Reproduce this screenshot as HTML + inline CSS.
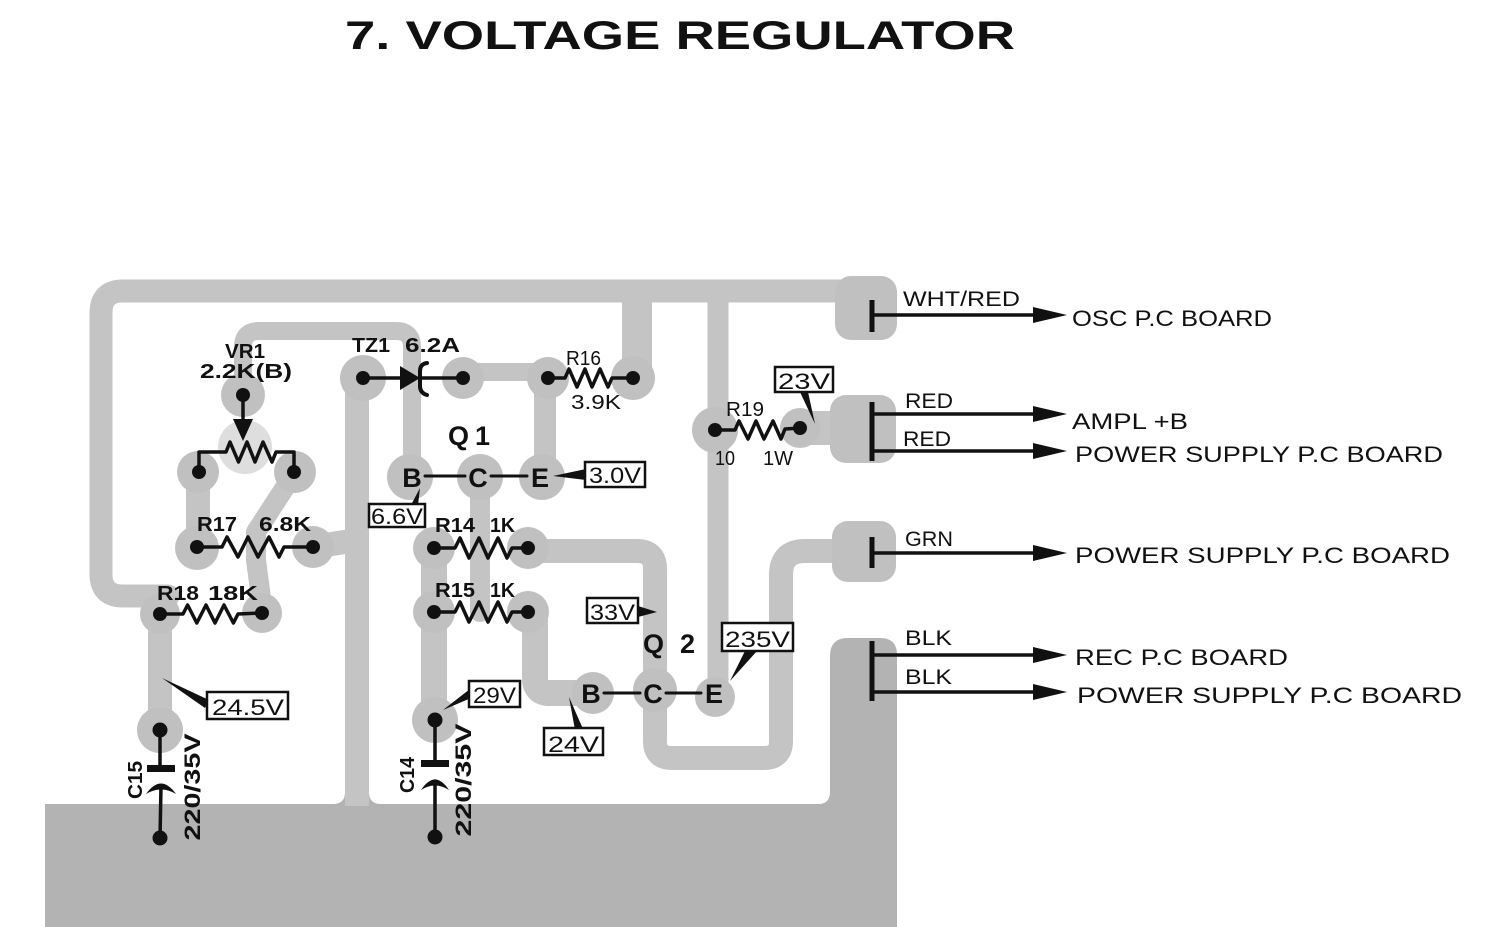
<!DOCTYPE html>
<html>
<head>
<meta charset="utf-8">
<style>
html,body{margin:0;padding:0;background:#fff;}
svg{display:block;}
</style>
</head>
<body>
<svg width="1497" height="927" viewBox="0 0 1497 927" xmlns="http://www.w3.org/2000/svg" font-family="'Liberation Sans', Arial, sans-serif">
<rect width="1497" height="927" fill="#fff"/>

<!-- ground plane -->
<path fill="#b3b3b3" d="M45,927 V804 H333 Q345,804 345,792 V790 H369 V792 Q369,804 381,804 H818 Q830,804 830,792 V656 Q830,638 848,638 H880 Q897,638 897,655 V927 Z"/>

<!-- traces -->
<g fill="none" stroke="#c4c4c4" stroke-linecap="round" stroke-linejoin="round">
  <path d="M168,596 H123 Q101,596 101,574 V313 Q101,291 123,291 H850" stroke-width="23"/>
  <path d="M160,600 V730" stroke-width="24"/>
  <path d="M198,472 V548" stroke-width="24"/>
  <path d="M295,472 L256,532 V560 L263,613" stroke-width="20"/>
  <path d="M313,547 L357,540" stroke-width="24"/>
  <path d="M357,378 V806" stroke-width="24" stroke-linecap="butt"/>
  <path d="M243,395 V347 Q243,331 259,331 H396 Q412,331 412,347 V477" stroke-width="18"/>
  <path d="M463,372 H548" stroke-width="18"/>
  <path d="M545,378 V477" stroke-width="22"/>
  <path d="M637,378 V285" stroke-width="30" stroke-linecap="butt"/>
  <path d="M480,477 V612" stroke-width="20"/>
  <path d="M434,548 V720" stroke-width="26"/>
  <path d="M528,551 H637 Q655,551 655,569 V741 Q655,758 672,758 H764 Q781,758 781,741 V575 Q781,551 805,551 H850" stroke-width="24"/>
  <path d="M528,612 H535 V678 Q535,693 550,693 H593" stroke-width="26"/>
  <path d="M718,283 V690" stroke-width="21" stroke-linecap="butt"/>
  <path d="M800,428 H845" stroke-width="34"/>
</g>

<!-- right pads -->
<g fill="#c0c0c0">
  <rect x="835" y="276" width="62" height="64" rx="16"/>
  <rect x="830" y="395" width="66" height="68" rx="16"/>
  <rect x="832" y="521" width="64" height="61" rx="16"/>
</g>

<!-- pad blobs -->
<circle cx="245" cy="447" r="27" fill="#dedede"/>
<g fill="#c0c0c0">
  <circle cx="243" cy="395" r="22"/>
  <circle cx="198" cy="472" r="21"/>
  <circle cx="295" cy="472" r="21"/>
  <circle cx="197" cy="548" r="22"/>
  <circle cx="313" cy="547" r="21"/>
  <circle cx="160" cy="614" r="20"/>
  <circle cx="262" cy="613" r="20"/>
  <circle cx="160" cy="730" r="23"/>
  <circle cx="363" cy="378" r="23"/>
  <circle cx="463" cy="378" r="21"/>
  <circle cx="548" cy="378" r="21"/>
  <circle cx="633" cy="378" r="22"/>
  <circle cx="410" cy="477" r="23"/>
  <circle cx="480" cy="477" r="23"/>
  <circle cx="542" cy="477" r="23"/>
  <circle cx="434" cy="548" r="21"/>
  <circle cx="528" cy="548" r="21"/>
  <circle cx="434" cy="612" r="21"/>
  <circle cx="528" cy="612" r="21"/>
  <circle cx="435" cy="720" r="23"/>
  <circle cx="593" cy="693" r="21"/>
  <circle cx="655" cy="690" r="22"/>
  <circle cx="715" cy="697" r="20"/>
  <circle cx="715" cy="430" r="23"/>
  <circle cx="800" cy="428" r="20"/>
</g>

<!-- title -->
<text x="345" y="49" font-size="40" font-weight="bold" fill="#111" textLength="670" lengthAdjust="spacingAndGlyphs">7. VOLTAGE REGULATOR</text>

<!-- components -->
<g stroke="#111" fill="none" stroke-width="3.5" stroke-linejoin="round" stroke-linecap="round">
  <line x1="243" y1="395" x2="243" y2="422"/>
  <polyline points="199,472 199,452 226,452 230,442 238.5,462 247,442 255,462 263,442 272,462 276,452 294,452 294,472"/>
  <polyline points="197,547 222,547 227,537 238,557 248,537 258,557 269,537 279,557 284,547 313,547"/>
  <polyline points="160,614 183,614 187.6,605 196.8,623 206,605 215,623 224,605 233.4,623 238,614 262,613"/>
  <line x1="363" y1="378" x2="402" y2="378"/>
  <line x1="420" y1="378" x2="463" y2="378"/>
  <path d="M427,363 Q420,364 420,371 L420,386 Q420,393 427,395" stroke-width="4"/>
  <polyline points="548,378 565,378 569,369 577,387 585,369 592,387 600,369 608,387 612,378 633,378"/>
  <polyline points="434,548 455,548 460,538 469,558 479,538 488,558 498,538 507,558 512,548 528,548"/>
  <polyline points="434,612 455,612 460,602 469,622 479,602 488,622 498,602 507,622 512,612 528,612"/>
  <polyline points="715,430 735,430 739,421 748,439 756,421 764,439 773,421 781,439 785,429 800,428"/>
  <line x1="425" y1="476" x2="465" y2="476" stroke-width="3"/>
  <line x1="491" y1="476" x2="527" y2="476" stroke-width="3"/>
  <line x1="604" y1="693" x2="640" y2="693" stroke-width="3"/>
  <line x1="666" y1="693" x2="701" y2="693" stroke-width="3"/>
  <line x1="160" y1="730" x2="160" y2="768"/>
  <line x1="161" y1="786" x2="160" y2="838"/>
  <line x1="435" y1="720" x2="435" y2="763"/>
  <line x1="435" y1="781" x2="435" y2="837"/>
</g>

<g fill="#111">
  <circle cx="243" cy="395" r="7"/>
  <circle cx="199" cy="472" r="7"/>
  <circle cx="294" cy="472" r="7"/>
  <circle cx="197" cy="547" r="7"/>
  <circle cx="313" cy="547" r="7"/>
  <circle cx="160" cy="614" r="7"/>
  <circle cx="262" cy="613" r="7"/>
  <circle cx="363" cy="378" r="7"/>
  <circle cx="463" cy="378" r="7"/>
  <circle cx="548" cy="378" r="7"/>
  <circle cx="633" cy="378" r="7"/>
  <circle cx="434" cy="548" r="7"/>
  <circle cx="528" cy="548" r="7"/>
  <circle cx="434" cy="612" r="7"/>
  <circle cx="528" cy="612" r="7"/>
  <circle cx="715" cy="430" r="7"/>
  <circle cx="800" cy="428" r="7"/>
  <circle cx="160" cy="730" r="7.5"/>
  <circle cx="160" cy="838" r="7.5"/>
  <circle cx="435" cy="720" r="7.5"/>
  <circle cx="435" cy="837" r="7.5"/>
  <polygon points="233,419 253,419 243,441"/>
  <polygon points="400,366 400,390 420,378"/>
  <rect x="147" y="765" width="28" height="7"/>
  <path d="M146,794 Q161,773 176,794 Q161,785 146,794 Z"/>
  <rect x="421" y="760" width="28" height="7"/>
  <path d="M421,790 Q435,769 449,790 Q435,781 421,790 Z"/>
  <polygon points="162,678 209,700 205,708"/>
  <polygon points="443,710 470,689 471,698"/>
  <polygon points="569,697 575,730 583,729"/>
  <polygon points="745,651 757,651 730,681"/>
  <polygon points="800,392 808,392 815,424"/>
  <polygon points="553,476 586,469 586,480"/>
  <polygon points="420,488 411,505 418,505"/>
  <polygon points="638,606 657,612 638,617"/>
</g>

<!-- value boxes -->
<g fill="#fff" stroke="#111" stroke-width="2.5">
  <rect x="207" y="692" width="81" height="27"/>
  <rect x="469" y="681" width="51" height="26"/>
  <rect x="585" y="462" width="60" height="25"/>
  <rect x="369" y="504" width="56" height="23"/>
  <rect x="587" y="598" width="51" height="25"/>
  <rect x="722" y="623" width="71" height="28"/>
  <rect x="544" y="728" width="59" height="27"/>
  <rect x="775" y="367" width="58" height="25"/>
</g>
<g fill="#111" font-size="22">
  <text x="212" y="715" textLength="72" lengthAdjust="spacingAndGlyphs">24.5V</text>
  <text x="473" y="703" textLength="43" lengthAdjust="spacingAndGlyphs">29V</text>
  <text x="589" y="483" textLength="52" lengthAdjust="spacingAndGlyphs">3.0V</text>
  <text x="371" y="524" textLength="52" lengthAdjust="spacingAndGlyphs">6.6V</text>
  <text x="590" y="620" textLength="45" lengthAdjust="spacingAndGlyphs">33V</text>
  <text x="725" y="647" textLength="65" lengthAdjust="spacingAndGlyphs">235V</text>
  <text x="548" y="752" textLength="51" lengthAdjust="spacingAndGlyphs">24V</text>
  <text x="778" y="389" textLength="52" lengthAdjust="spacingAndGlyphs">23V</text>
</g>

<!-- component labels -->
<g fill="#111" font-size="20">
  <text x="225" y="358" font-weight="bold" textLength="40" lengthAdjust="spacingAndGlyphs">VR1</text>
  <text x="200" y="378" font-weight="bold" textLength="92" lengthAdjust="spacingAndGlyphs">2.2K(B)</text>
  <text x="352" y="352" font-weight="bold" textLength="38" lengthAdjust="spacingAndGlyphs">TZ1</text>
  <text x="405" y="352" font-weight="bold" textLength="55" lengthAdjust="spacingAndGlyphs">6.2A</text>
  <text x="566" y="365" textLength="35" lengthAdjust="spacingAndGlyphs">R16</text>
  <text x="571" y="409" textLength="50" lengthAdjust="spacingAndGlyphs">3.9K</text>
  <text x="197" y="531" font-weight="bold" textLength="40" lengthAdjust="spacingAndGlyphs">R17</text>
  <text x="259" y="531" font-weight="bold" textLength="52" lengthAdjust="spacingAndGlyphs">6.8K</text>
  <text x="157" y="600" font-weight="bold" textLength="42" lengthAdjust="spacingAndGlyphs">R18</text>
  <text x="208" y="600" font-weight="bold" textLength="50" lengthAdjust="spacingAndGlyphs">18K</text>
  <text x="435" y="532" font-weight="bold" textLength="40" lengthAdjust="spacingAndGlyphs">R14</text>
  <text x="490" y="532" font-weight="bold" textLength="25" lengthAdjust="spacingAndGlyphs">1K</text>
  <text x="435" y="597" font-weight="bold" textLength="40" lengthAdjust="spacingAndGlyphs">R15</text>
  <text x="490" y="597" font-weight="bold" textLength="25" lengthAdjust="spacingAndGlyphs">1K</text>
  <text x="726" y="416" textLength="38" lengthAdjust="spacingAndGlyphs">R19</text>
  <text x="715" y="465" textLength="20" lengthAdjust="spacingAndGlyphs">10</text>
  <text x="763" y="465" textLength="30" lengthAdjust="spacingAndGlyphs">1W</text>
</g>
<g fill="#111" font-weight="bold" font-size="27">
  <text x="448" y="445" textLength="42" lengthAdjust="spacing">Q 1</text>
  <text x="412" y="487" text-anchor="middle">B</text>
  <text x="478" y="487" text-anchor="middle">C</text>
  <text x="540" y="487" text-anchor="middle">E</text>
  <text x="643" y="653" textLength="52" lengthAdjust="spacing">Q 2</text>
  <text x="591" y="703" text-anchor="middle">B</text>
  <text x="653" y="703" text-anchor="middle">C</text>
  <text x="714" y="703" text-anchor="middle">E</text>
</g>

<!-- rotated capacitor labels -->
<g fill="#111" font-weight="bold">
  <text transform="translate(142,780) rotate(-90)" text-anchor="middle" font-size="20" textLength="38" lengthAdjust="spacingAndGlyphs">C15</text>
  <text transform="translate(200,787) rotate(-90)" text-anchor="middle" font-size="22" textLength="107" lengthAdjust="spacingAndGlyphs">220/35V</text>
  <text transform="translate(414,775) rotate(-90)" text-anchor="middle" font-size="20" textLength="36" lengthAdjust="spacingAndGlyphs">C14</text>
  <text transform="translate(471,780) rotate(-90)" text-anchor="middle" font-size="22" textLength="113" lengthAdjust="spacingAndGlyphs">220/35V</text>
</g>

<!-- right connectors -->
<g stroke="#111">
  <line x1="872" y1="300" x2="872" y2="332" stroke-width="5"/>
  <line x1="872" y1="315" x2="1036" y2="315" stroke-width="3.5"/>
  <line x1="872" y1="402" x2="872" y2="461" stroke-width="5"/>
  <line x1="872" y1="414" x2="1036" y2="414" stroke-width="3.5"/>
  <line x1="872" y1="451" x2="1036" y2="451" stroke-width="3.5"/>
  <line x1="872" y1="537" x2="872" y2="568" stroke-width="5"/>
  <line x1="872" y1="553" x2="1036" y2="553" stroke-width="3.5"/>
  <line x1="872" y1="641" x2="872" y2="701" stroke-width="5"/>
  <line x1="872" y1="655" x2="1036" y2="655" stroke-width="3.5"/>
  <line x1="872" y1="692" x2="1036" y2="692" stroke-width="3.5"/>
</g>
<g fill="#111">
  <polygon points="1033,307 1067,315 1033,323"/>
  <polygon points="1033,406 1067,414 1033,422"/>
  <polygon points="1033,443 1067,451 1033,459"/>
  <polygon points="1033,545 1067,553 1033,561"/>
  <polygon points="1033,647 1067,655 1033,663"/>
  <polygon points="1033,684 1067,692 1033,700"/>
</g>
<g fill="#111" font-size="21">
  <text x="903" y="306" textLength="117" lengthAdjust="spacingAndGlyphs">WHT/RED</text>
  <text x="905" y="408" textLength="48" lengthAdjust="spacingAndGlyphs">RED</text>
  <text x="903" y="446" textLength="48" lengthAdjust="spacingAndGlyphs">RED</text>
  <text x="905" y="546" textLength="48" lengthAdjust="spacingAndGlyphs">GRN</text>
  <text x="905" y="645" textLength="47" lengthAdjust="spacingAndGlyphs">BLK</text>
  <text x="905" y="684" textLength="47" lengthAdjust="spacingAndGlyphs">BLK</text>
</g>
<g fill="#111" font-size="22">
  <text x="1072" y="326" textLength="200" lengthAdjust="spacingAndGlyphs">OSC P.C BOARD</text>
  <text x="1072" y="429" textLength="116" lengthAdjust="spacingAndGlyphs">AMPL +B</text>
  <text x="1075" y="462" textLength="368" lengthAdjust="spacingAndGlyphs">POWER SUPPLY P.C BOARD</text>
  <text x="1075" y="563" textLength="375" lengthAdjust="spacingAndGlyphs">POWER SUPPLY P.C BOARD</text>
  <text x="1075" y="665" textLength="213" lengthAdjust="spacingAndGlyphs">REC P.C BOARD</text>
  <text x="1077" y="703" textLength="385" lengthAdjust="spacingAndGlyphs">POWER SUPPLY P.C BOARD</text>
</g>
</svg>
</body>
</html>
